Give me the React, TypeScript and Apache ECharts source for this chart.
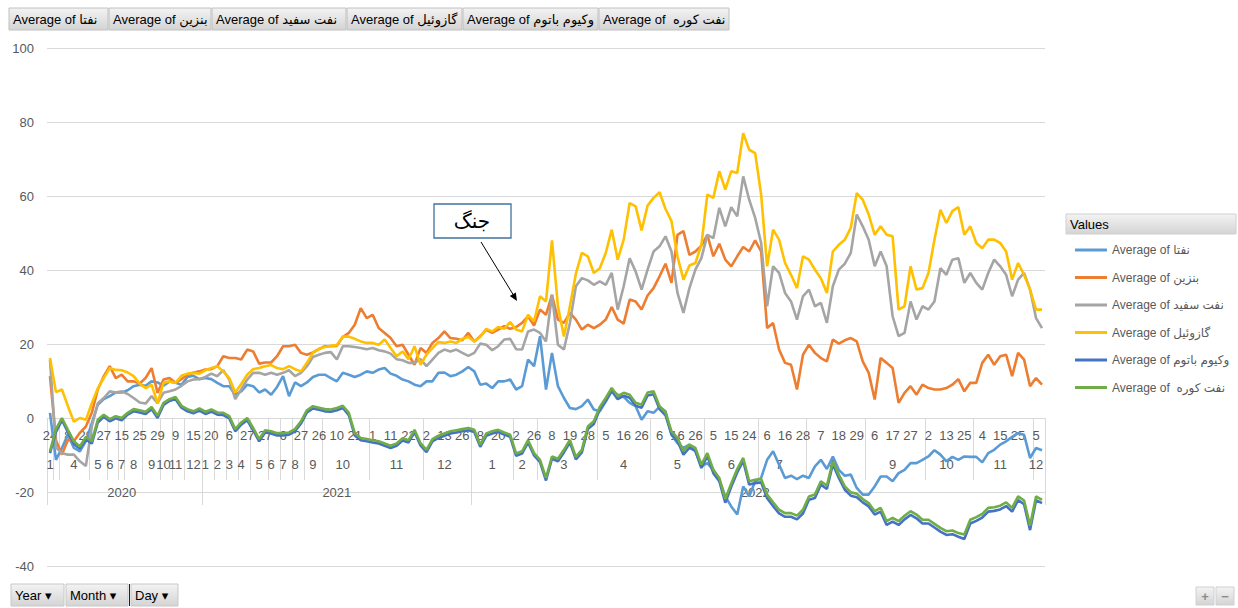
import React, { useEffect, useRef } from "react";
import * as echarts from "echarts";

// [year, month, days with data]
const periods: Array<[number, number, number[]]> = [
  [2020, 1, [24]],
  [2020, 3, [8]],
  [2020, 4, [1, 8, 14, 22, 29]],
  [2020, 5, [6, 15, 27]],
  [2020, 6, [9, 24]],
  [2020, 7, [15]],
  [2020, 8, [1, 12, 25]],
  [2020, 9, [9, 18, 29]],
  [2020, 10, [12, 26]],
  [2020, 11, [9, 19]],
  [2020, 12, [1, 15, 28]],
  [2021, 1, [4, 20]],
  [2021, 2, [5, 19]],
  [2021, 3, [6, 23]],
  [2021, 4, [5, 27]],
  [2021, 5, [4, 16, 27]],
  [2021, 6, [12, 22]],
  [2021, 7, [6, 27]],
  [2021, 8, [10, 27]],
  [2021, 9, [4, 15, 26]],
  [2021, 10, [3, 6, 10, 14, 18, 21, 25, 28]],
  [2021, 11, [1, 4, 8, 11, 15, 18, 22, 25, 29]],
  [2021, 12, [2, 6, 9, 13, 18, 22, 26, 31]],
  [2022, 1, [3, 8, 12, 16, 20, 24, 29]],
  [2022, 2, [2, 12, 19, 26]],
  [2022, 3, [1, 4, 8, 11, 15, 19, 23, 26, 28, 30]],
  [2022, 4, [2, 5, 9, 12, 16, 19, 22, 26, 29]],
  [2022, 5, [2, 6, 10, 13, 16, 19, 22, 26, 29]],
  [2022, 6, [2, 5, 9, 12, 15, 17, 21, 24, 28]],
  [2022, 7, [2, 6, 9, 12, 16, 20, 24, 28]],
  [2022, 8, [1, 4, 7, 11, 15, 18, 22, 25, 29, 31]],
  [2022, 9, [3, 6, 10, 14, 17, 20, 24, 27, 29, 30]],
  [2022, 10, [2, 7, 10, 13, 17, 21, 25, 28]],
  [2022, 11, [1, 4, 8, 11, 15, 18, 22, 25, 28, 30]],
  [2022, 12, [5, 12]],
];

const seriesNames = [
  "Average of نفتا",
  "Average of بنزین",
  "Average of نفت سفید",
  "Average of گازوئیل",
  "Average of وکیوم باتوم",
  "Average of  نفت کوره",
];
const seriesColors = ["#5B9BD5", "#ED7D31", "#A5A5A5", "#FFC000", "#4472C4", "#70AD47"];

const naphtha = [
  1.4, -11.3, -8.1, -4.5, -8.1, -9, -6.3, -1.4, 3.6, 5.1,
  5.9, 6.9, 6.9, 7.5, 8.6, 9, 8.7, 9.9, 9.6, 8.7,
  9.9, 9.5, 9, 11.1, 11.4, 10.5, 10.8, 10.5, 9.5, 8.6,
  8.6, 6.3, 7.2, 9, 8.6, 6.9, 7.7, 6.3, 8.4, 11.3,
  5.9, 9.6, 8.6, 9.6, 11.1, 11.7, 11.7, 10.8, 9.9, 12.2,
  11.7, 11.1, 11.7, 12.6, 12.2, 13.1, 13.5, 12, 11.4, 10.4,
  9.9, 9, 8.6, 9.9, 9.9, 12.2, 12.3, 11.3, 11.7, 12.6,
  13.8, 12.6, 9, 9.3, 8.1, 9.9, 9.9, 10.4, 7.7, 8.6,
  15.8, 14, 22.1, 7.7, 17.6, 8.6, 5.4, 2.7, 2.4, 3.2,
  5, 2.3, 1.8, 4.5, 7.5, 6.3, 5.7, 4.1, 3.2, -0.5,
  1.8, 1.4, 3, 1.8, -4.5, -6.8, -8.1, -7.2, -9, -13.1,
  -12.2, -14, -16.7, -21.2, -23.9, -26.1, -18.5, -21.2, -17.1, -16.2,
  -11.3, -9, -12.6, -16.2, -15.6, -16.5, -15.6, -16.2, -13.1, -11.3,
  -13.8, -10.4, -14, -15.6, -15.3, -18.9, -20.7, -20.7, -18.5, -15.8,
  -15.8, -17.1, -14.9, -14, -12.2, -12.2, -11.3, -10.4, -8.7, -9.9,
  -11.7, -10.5, -11.3, -10.4, -10.5, -10.5, -12, -9.5, -8.6, -7.2,
  -6.3, -5.1, -4.1, -4.5, -10.8, -8.1, -8.7,
];

const gasoline = [
  11.3, -6, -9.9, -5.9, -6.3, -4, -2.3, 1.4, 7.7, 11.3,
  14, 10.8, 11.7, 9.9, 9.9, 9.3, 10.8, 13.5, 6.8, 10.4,
  10.8, 9.5, 10.5, 11.7, 12.2, 12.6, 13.1, 13.2, 14, 16.7,
  16.2, 16.2, 15.8, 18.5, 18, 14.7, 15, 15, 16.7, 19.4,
  19.4, 19.8, 17.6, 17.1, 17.7, 18.6, 19.4, 19.4, 19.5, 21.9,
  23, 25.2, 29.7, 27, 27.9, 24.3, 23, 21.6, 19.4, 19.8,
  17.1, 14.4, 18.9, 17.6, 20.3, 21.6, 23.4, 21.6, 21.4, 21,
  23, 20.7, 22.1, 23.8, 23, 23.9, 24.8, 24.1, 24.6, 25.7,
  27.5, 25, 29.3, 27.9, 33.3, 26.6, 25.7, 28.4, 26.6, 23.9,
  25.2, 24.3, 25.2, 26.6, 30, 26.6, 25.5, 32, 31.5, 29.3,
  33.1, 35.1, 38.3, 41.7, 36.5, 49.5, 50.5, 44.1, 45, 46.6,
  49.5, 43.7, 47.1, 42.8, 41, 43.7, 46.2, 45, 48, 45,
  24.3, 25.7, 18.5, 14.9, 14.4, 7.7, 17.1, 19.8, 17.6, 16.2,
  15.3, 21.2, 20.1, 21, 21.6, 20.7, 15.3, 12.2, 5, 16.2,
  14.9, 13.5, 4.1, 6.8, 8.6, 6.3, 9, 8.1, 7.7, 7.7,
  8.1, 9, 10.5, 7.2, 9.5, 9.5, 14.9, 17.1, 14.4, 16.7,
  17.1, 11.3, 17.6, 15.8, 8.6, 10.8, 9,
];

const kerosene = [
  15.8, -8, -9.5, -9.9, -9.9, -11.7, -13, -2.3, 4, 5.4,
  7.2, 6.9, 7.2, 6.5, 5.4, 4.2, 3.9, 5.9, 4, 6.8,
  7.2, 7.7, 8.7, 9.9, 10.4, 10.5, 11.1, 12, 11.3, 12.9,
  10.4, 5.1, 7.7, 10.4, 12.2, 12.2, 11.7, 12.2, 11.7, 12.2,
  12.9, 11.3, 12.2, 14, 16.5, 17.1, 17.6, 17.8, 15.8, 19.4,
  19.4, 19.2, 18.9, 18.6, 18.9, 18.3, 18, 17.4, 15.9, 15.6,
  14.9, 14.9, 15.9, 14, 15.8, 17.6, 18.5, 18, 18.5, 17.6,
  16.8, 17.6, 20.1, 19.8, 18.3, 19.4, 21.2, 21.4, 18.6, 18.5,
  23.4, 23.9, 23, 20.7, 33.3, 19.8, 18.5, 25.7, 35.6, 37.8,
  37.2, 36, 36.9, 36, 39.2, 29.3, 35.6, 43.2, 39.6, 34.7,
  40.1, 45, 46.4, 49.1, 45, 33.8, 28.4, 35.1, 40.1, 43.2,
  49.5, 48.6, 56.8, 51.8, 57, 54.5, 65.3, 59, 54.1, 47.3,
  30.2, 41, 39.2, 33.8, 31.5, 26.6, 32.9, 34.7, 30.2, 31.1,
  25.7, 35.6, 40.1, 41.7, 44.6, 55, 51.8, 48.2, 41, 45,
  41, 27.5, 22.1, 23, 31.5, 26.6, 30.2, 29.3, 31.5, 40.5,
  38.7, 42.8, 43.2, 36.5, 39.2, 36.5, 34.7, 39.2, 42.8, 41,
  38.7, 32.9, 37.4, 39.2, 34.7, 27, 24.3,
];

const gasoil = [
  16.2, 7, 7.7, 3.2, -1, 0, -0.5, 4, 8, 10.8,
  13.5, 13, 12.9, 12.3, 11.3, 9.3, 8.1, 9, 4, 9.5,
  9.9, 9.5, 11.4, 12, 12.2, 12, 12.9, 13.5, 14, 12.6,
  10.8, 6.9, 9.2, 11.7, 13.2, 13.5, 14, 14.3, 13.5, 13.2,
  14, 13.2, 12.6, 14.9, 17.6, 18.7, 19.2, 19.5, 19.7, 22,
  22, 21.4, 20.7, 20.3, 20.3, 19.8, 21.2, 18.9, 16.7, 18,
  15.9, 19.4, 14.4, 17.1, 18.9, 20.5, 20.3, 20.7, 20.3, 21.4,
  21.9, 20.7, 21.9, 24.1, 23.4, 24.6, 24.1, 25.9, 23.9, 23.4,
  27.9, 26.1, 32.9, 31.5, 48, 30.2, 22, 30.2, 39, 44.6,
  43.7, 39.2, 40.5, 44.6, 50.9, 42.8, 48.2, 58.1, 57.2, 50.7,
  57.4, 59.5, 61, 56.5, 53.2, 43.7, 37.4, 41.2, 41.9, 46.8,
  60.4, 59.5, 66.7, 61.7, 66.7, 66.2, 77, 72.5, 71.6, 60.4,
  41, 50.9, 48.2, 41.9, 38.7, 35.1, 43.7, 42.8, 40.1, 37.8,
  33.8, 45, 46.8, 48.2, 51.4, 60.8, 59, 55, 49.5, 51.8,
  49.5, 49.1, 29.3, 30.2, 41, 34.7, 35.1, 39.2, 48.2, 56.3,
  52.7, 55.9, 57, 49.5, 51.8, 47.3, 45.9, 48.2, 48.2, 47.3,
  45, 37.4, 41.9, 38.7, 34.7, 29.3, 29.3,
];

const vacuumBottom = [
  -9.5, -3.8, -0.6, -3.8, -7, -8.3, -5.8, -6.9, -1.2, 0.3,
  -0.9, -0.1, -0.6, 0.9, 1.8, 1.5, 1.1, 2.4, 0, 3.5,
  4.6, 5.1, 2.8, 1.8, 1.3, 2, 1.1, 1.7, 0.9, 0.8,
  -0.1, -3.6, -1.8, -0.6, -3.3, -6.3, -3.9, -4.2, -4.7, -4.7,
  -4.5, -3.6, -1.5, 1.5, 2.6, 2.2, 1.8, 1.7, 2.1, 2.7,
  0.8, -4.7, -6, -6.3, -6.6, -6.9, -7.5, -8.1, -7.5, -6.1,
  -6.6, -3.8, -7.4, -9.2, -6.3, -5.4, -4.8, -4.2, -3.9, -3.6,
  -3.3, -3.8, -7.8, -4.8, -4.2, -3.8, -4.5, -5.1, -10.2, -9.6,
  -6.6, -10.1, -11.9, -16.9, -11, -11.7, -9.3, -6.6, -11.2, -9.3,
  -3, -1.6, 2.3, 4.6, 7.3, 5.1, 6, 5.5, 3.3, 2.8,
  6.1, 6.4, 2.4, 0.7, -4.4, -6.2, -9.9, -8, -8.9, -13.5,
  -10.3, -14.9, -17.1, -22.9, -18.6, -14.7, -11.6, -18, -17.6, -17.4,
  -21.7, -23.8, -25.8, -26.7, -26.7, -27.4, -25.8, -22.1, -21.6, -18,
  -19.2, -12.5, -16.2, -19.4, -21, -21.4, -22.8, -23.9, -26.1, -25.3,
  -28.9, -28, -28.9, -27.4, -26.2, -27.1, -28.5, -28.5, -29.6, -30.7,
  -31.6, -31.4, -32.1, -32.7, -28.5, -27.8, -26.9, -25.3, -25.1, -24.7,
  -23.8, -25.3, -22.2, -23.3, -30.3, -22.2, -23,
];

const fuelOil = [
  -9, -3, 0, -3.2, -6.3, -7.7, -5.1, -6.3, -0.5, 0.9,
  -0.3, 0.5, 0, 1.4, 2.4, 2.1, 1.7, 3, 0.6, 4.1,
  5.1, 5.7, 3.3, 2.4, 1.8, 2.6, 1.7, 2.3, 1.5, 1.4,
  0.5, -3, -1.2, 0, -2.7, -5.7, -3.3, -3.6, -4.1, -4.1,
  -3.9, -3, -0.9, 2.1, 3.2, 2.8, 2.4, 2.3, 2.7, 3.3,
  1.4, -4.1, -5.4, -5.7, -6, -6.3, -6.9, -7.5, -6.9, -5.5,
  -6, -3.2, -6.8, -8.6, -5.7, -4.8, -4.2, -3.6, -3.3, -3,
  -2.7, -3.2, -7.2, -4.2, -3.6, -3.2, -3.9, -4.5, -9.6, -9,
  -6, -9.5, -11.3, -16.2, -10.4, -11, -8.6, -5.9, -10.5, -8.6,
  -2.3, -0.9, 3, 5.4, 8.1, 5.9, 6.8, 6.3, 4.1, 3.6,
  6.9, 7.2, 3.2, 1.5, -3.6, -5.4, -9, -7.2, -8.1, -12.6,
  -9.5, -14, -16.2, -21.9, -17.7, -13.8, -10.8, -17.1, -16.7, -16.5,
  -20.7, -22.8, -24.8, -25.7, -25.7, -26.4, -24.8, -21.2, -20.7, -17.1,
  -18.3, -11.7, -15.3, -18.5, -20.1, -20.5, -21.9, -23, -25.2, -24.3,
  -27.9, -27, -27.9, -26.4, -25.2, -26.1, -27.5, -27.5, -28.6, -29.7,
  -30.6, -30.4, -31.1, -31.5, -27.5, -26.8, -25.9, -24.3, -24.1, -23.7,
  -22.8, -24.3, -21.2, -22.3, -29.1, -21.2, -22.1,
];

const seriesValues = [naphtha, gasoline, kerosene, gasoil, vacuumBottom, fuelOil];

const yTicks = { min: -40, max: 100, step: 20 };

const topButtons = [
  { text: "Average of نفتا", x: 9, w: 99 },
  { text: "Average of بنزین", x: 109, w: 102 },
  { text: "Average of نفت سفید", x: 212, w: 134 },
  { text: "Average of گازوئیل", x: 347, w: 115 },
  { text: "Average of وکیوم باتوم", x: 463, w: 135 },
  { text: "Average of  نفت کوره", x: 599, w: 130 },
];
const bottomButtons = [
  { text: "Year ▾", x: 11, w: 53 },
  { text: "Month ▾", x: 66, w: 62 },
  { text: "Day ▾", x: 131, w: 47 },
];

const FONT = "'Liberation Sans', 'DejaVu Sans', Arial, sans-serif";

function buildAxisInfo() {
  const categories: string[] = [];
  const monthStarts = new Set<number>();
  const monthMids = new Set<number>();
  const yearStarts = new Set<number>();
  const yearMids = new Set<number>();
  const yearRanges: Record<number, [number, number]> = {};
  periods.forEach(([y, m, days]) => {
    const s = categories.length;
    monthStarts.add(s);
    monthMids.add(s + Math.floor((days.length - 1) / 2));
    days.forEach((d) => categories.push(`${y}|${m}|${d}`));
    const e = categories.length - 1;
    if (!yearRanges[y]) yearRanges[y] = [s, e];
    else yearRanges[y][1] = e;
  });
  Object.keys(yearRanges).forEach((k) => {
    const [s, e] = yearRanges[+k];
    yearStarts.add(s);
    yearMids.add(Math.floor((s + e) / 2));
  });
  return { categories, monthStarts, monthMids, yearStarts, yearMids };
}

function grad() {
  return new echarts.graphic.LinearGradient(0, 0, 0, 1, [
    { offset: 0, color: "#f3f3f3" },
    { offset: 1, color: "#d4d4d4" },
  ]);
}

export default function App() {
  const ref = useRef<HTMLDivElement>(null);
  useEffect(() => {
    if (!ref.current) return;
    const chart = echarts.init(ref.current, undefined, { renderer: "svg" });
    const { categories, monthStarts, monthMids, yearStarts, yearMids } = buildAxisInfo();
    const axisOffset = -148;
    const labelColor = "#595959";
    const sepColor = "#d9d9d9";

    const graphic: any[] = [];
    topButtons.forEach((b) => {
      graphic.push({
        type: "rect",
        shape: { x: b.x, y: 8, width: b.w, height: 22 },
        style: { fill: grad(), stroke: "#c0c0c0", lineWidth: 1 },
        silent: true,
      });
      graphic.push({
        type: "text",
        x: b.x + 4,
        y: 19,
        style: { text: b.text, fill: "#000", font: `13px ${FONT}`, textVerticalAlign: "middle" },
        silent: true,
      });
    });
    bottomButtons.forEach((b) => {
      graphic.push({
        type: "rect",
        shape: { x: b.x, y: 584, width: b.w, height: 22 },
        style: { fill: grad(), stroke: "#c8c8c8", lineWidth: 1 },
        silent: true,
      });
      graphic.push({
        type: "text",
        x: b.x + 4,
        y: 595,
        style: { text: b.text, fill: "#000", font: `13px ${FONT}`, textVerticalAlign: "middle" },
        silent: true,
      });
    });
    graphic.push({
      type: "line",
      shape: { x1: 129.5, y1: 584, x2: 129.5, y2: 606 },
      style: { stroke: "#222", lineWidth: 1 },
    });
    [
      { t: "+", x: 1196 },
      { t: "−", x: 1216 },
    ].forEach((b) => {
      graphic.push({
        type: "rect",
        shape: { x: b.x, y: 587, width: 18, height: 18 },
        style: { fill: grad(), stroke: "#d0d0d0", lineWidth: 1 },
      });
      graphic.push({
        type: "text",
        x: b.x + 9,
        y: 596,
        style: { text: b.t, fill: "#8a8a8a", font: `bold 13px ${FONT}`, textAlign: "center", textVerticalAlign: "middle" },
      });
    });
    // legend header
    graphic.push({
      type: "rect",
      shape: { x: 1066, y: 214, width: 170, height: 20 },
      style: { fill: grad(), stroke: "#d0d0d0", lineWidth: 1 },
    });
    graphic.push({
      type: "text",
      x: 1070,
      y: 224,
      style: { text: "Values", fill: "#000", font: `13px ${FONT}`, textVerticalAlign: "middle" },
    });
    // annotation
    graphic.push({
      type: "rect",
      shape: { x: 434, y: 204, width: 77, height: 34 },
      style: { fill: "#fff", stroke: "#41719c", lineWidth: 1.3 },
      z: 100,
    });
    graphic.push({
      type: "text",
      x: 472,
      y: 221,
      style: { text: "جنگ", fill: "#000", font: `20px 'DejaVu Sans', serif`, textAlign: "center", textVerticalAlign: "middle" },
      z: 101,
    });
    graphic.push({
      type: "line",
      shape: { x1: 481, y1: 242, x2: 514, y2: 296 },
      style: { stroke: "#000", lineWidth: 1 },
      z: 100,
    });
    graphic.push({
      type: "polygon",
      shape: { points: [[517, 301], [509.8, 296], [515.8, 292.4]] },
      style: { fill: "#000" },
      z: 100,
    });

    const baseCatAxis = {
      type: "category",
      data: categories,
      position: "bottom",
      offset: axisOffset,
      boundaryGap: true,
      axisLine: { show: false, onZero: false },
      splitLine: { show: false },
    };

    chart.setOption({
      animation: false,
      backgroundColor: "#ffffff",
      textStyle: { fontFamily: FONT },
      grid: { left: 47, right: 193, top: 48, bottom: 42, containLabel: false, outerBoundsMode: "none" },
      legend: {
        orient: "vertical",
        left: 1070,
        top: 239,
        icon: "rect",
        itemWidth: 32,
        itemHeight: 3,
        itemGap: 15.5,
        textStyle: { color: labelColor, fontSize: 12, fontFamily: FONT },
        data: seriesNames,
      },
      xAxis: [
        {
          ...baseCatAxis,
          axisLine: { show: true, onZero: false, lineStyle: { color: sepColor } },
          axisTick: { show: false },
          axisLabel: {
            interval: 2,
            margin: 11,
            color: labelColor,
            fontSize: 13,
            showMinLabel: true,
            hideOverlap: false,
            formatter: (v: string) => v.split("|")[2],
          },
        },
        {
          ...baseCatAxis,
          axisTick: {
            show: true,
            length: 62,
            interval: (i: number) => monthStarts.has(i),
            lineStyle: { color: sepColor },
          },
          axisLabel: {
            interval: (i: number) => monthMids.has(i),
            margin: 40,
            color: labelColor,
            fontSize: 13,
            showMinLabel: true,
            hideOverlap: false,
            formatter: (v: string) => v.split("|")[1],
          },
        },
        {
          ...baseCatAxis,
          axisTick: {
            show: true,
            length: 87,
            interval: (i: number) => yearStarts.has(i),
            lineStyle: { color: sepColor },
          },
          axisLabel: {
            interval: (i: number) => yearMids.has(i),
            margin: 68,
            color: labelColor,
            fontSize: 13,
            formatter: (v: string) => v.split("|")[0],
          },
        },
      ],
      yAxis: {
        type: "value",
        min: yTicks.min,
        max: yTicks.max,
        interval: yTicks.step,
        axisLine: { show: false },
        axisTick: { show: false },
        axisLabel: { color: labelColor, fontSize: 13, margin: 13 },
        splitLine: { lineStyle: { color: sepColor, width: 1 } },
      },
      series: seriesNames.map((name, i) => ({
        name,
        type: "line",
        xAxisIndex: 0,
        data: seriesValues[i],
        symbol: "none",
        showSymbol: false,
        lineStyle: { color: seriesColors[i], width: 2.6 },
        itemStyle: { color: seriesColors[i] },
        z: 2 + i,
      })),
      graphic,
    });
    return () => chart.dispose();
  }, []);
  return (
    <div
      ref={ref}
      style={{ position: "fixed", left: 0, top: 0, width: 1238, height: 608, background: "#fff" }}
    />
  );
}
